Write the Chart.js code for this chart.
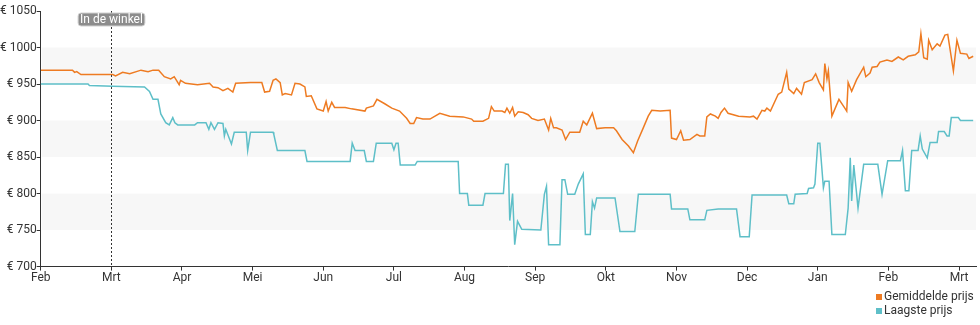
<!DOCTYPE html>
<html>
<head>
<meta charset="utf-8">
<script src="https://cdn.jsdelivr.net/npm/chart.js@4.4.1/dist/chart.umd.min.js"></script>
<style>
  html, body { margin: 0; padding: 0; background: #fff; }
  #wrap { width: 980px; height: 325px; position: relative; }
</style>
</head>
<body>
<div id="wrap"><canvas id="prijsChart"></canvas></div>
<script>
// maanden op de x-as (positie 0 = begin februari)
const monthLabels = ["Feb", "Mrt", "Apr", "Mei", "Jun", "Jul", "Aug", "Sep", "Okt", "Nov", "Dec", "Jan", "Feb", "Mrt"];
const yTicks = [700, 750, 800, 850, 900, 950, 1000, 1050];

// Gemiddelde prijs: positie (in maanden) en waarde
const avgX = [0.00, 0.45, 0.48, 0.51, 0.57, 1.02, 1.06, 1.16, 1.26, 1.42, 1.52, 1.59, 1.67, 1.75, 1.84, 1.89, 1.96, 1.98, 2.05, 2.22,
  2.39, 2.44, 2.51, 2.58, 2.65, 2.72, 2.76, 2.97, 3.13, 3.17, 3.24, 3.29, 3.33, 3.39, 3.42, 3.46, 3.55, 3.60, 3.67, 3.74,
  3.76, 3.83, 3.91, 4.00, 4.04, 4.07, 4.12, 4.16, 4.31, 4.40, 4.59, 4.61, 4.71, 4.76, 4.87, 4.97, 5.08, 5.18, 5.23, 5.28,
  5.32, 5.41, 5.51, 5.65, 5.79, 5.98, 6.10, 6.13, 6.26, 6.34, 6.38, 6.42, 6.53, 6.57, 6.60, 6.64, 6.68, 6.71, 6.76, 6.83,
  6.90, 6.95, 7.04, 7.13, 7.19, 7.22, 7.26, 7.30, 7.38, 7.43, 7.49, 7.63, 7.68, 7.73, 7.81, 7.87, 7.99, 8.11, 8.15, 8.23,
  8.32, 8.39, 8.45, 8.53, 8.60, 8.65, 8.77, 8.91, 8.93, 9.00, 9.06, 9.10, 9.19, 9.29, 9.33, 9.40, 9.43, 9.48, 9.55, 9.59,
  9.63, 9.68, 9.73, 9.88, 10.04, 10.09, 10.14, 10.21, 10.25, 10.28, 10.33, 10.44, 10.49, 10.56, 10.59, 10.66, 10.70, 10.77, 10.81, 10.92,
  10.97, 11.02, 11.08, 11.10, 11.13, 11.15, 11.20, 11.30, 11.39, 11.41, 11.43, 11.48, 11.55, 11.65, 11.68, 11.74, 11.77, 11.84, 11.88, 11.98,
  12.05, 12.14, 12.21, 12.28, 12.38, 12.43, 12.46, 12.50, 12.55, 12.57, 12.62, 12.69, 12.73, 12.80, 12.84, 12.92, 12.97, 13.02, 13.11, 13.14,
  13.20];
const avgY = [969, 969, 966, 967, 963, 963, 961, 966, 964, 969, 967, 969, 969, 960, 957, 960, 949, 955, 951, 949,
  951, 946, 945, 941, 944, 939, 951, 952, 952, 939, 940, 955, 957, 952, 935, 937, 935, 951, 950, 946,
  933, 934, 916, 913, 926, 913, 925, 918, 918, 916, 913, 917, 920, 929, 923, 917, 913, 903, 896, 896,
  904, 902, 902, 910, 906, 905, 902, 899, 899, 903, 919, 913, 913, 911, 917, 910, 918, 906, 912, 911,
  908, 903, 900, 902, 887, 903, 890, 890, 887, 874, 884, 884, 899, 894, 910, 889, 890, 890, 886, 874,
  865, 856, 872, 890, 906, 914, 913, 914, 876, 874, 886, 873, 874, 881, 879, 879, 905, 909, 906, 903,
  911, 917, 910, 906, 905, 906, 902, 914, 913, 917, 913, 936, 939, 966, 943, 937, 944, 936, 952, 956,
  964, 952, 942, 978, 957, 968, 906, 929, 916, 913, 952, 940, 956, 973, 960, 965, 973, 974, 980, 983,
  981, 987, 983, 988, 990, 994, 1019, 986, 984, 1010, 997, 1005, 1002, 1017, 1018, 968, 1010, 992, 991, 985,
  988];

// Laagste prijs
const lowX = [0.00, 0.67, 0.69, 1.02, 1.47, 1.54, 1.59, 1.66, 1.70, 1.77, 1.82, 1.87, 1.90, 1.94, 2.18, 2.22, 2.34, 2.38, 2.41, 2.46,
  2.51, 2.58, 2.60, 2.62, 2.70, 2.74, 2.91, 2.93, 2.97, 3.29, 3.30, 3.35, 3.74, 3.77, 4.38, 4.41, 4.45, 4.58, 4.61, 4.71,
  4.75, 4.97, 5.00, 5.03, 5.06, 5.09, 5.30, 5.33, 5.91, 5.93, 6.04, 6.06, 6.26, 6.29, 6.55, 6.58, 6.62, 6.64, 6.68, 6.71,
  6.75, 6.81, 7.08, 7.13, 7.16, 7.19, 7.35, 7.38, 7.42, 7.46, 7.56, 7.61, 7.68, 7.71, 7.78, 7.81, 7.84, 7.87, 8.13, 8.20,
  8.41, 8.46, 8.91, 8.93, 9.16, 9.19, 9.40, 9.43, 9.59, 9.85, 9.90, 10.03, 10.07, 10.56, 10.59, 10.66, 10.68, 10.85, 10.87, 10.94,
  10.96, 11.00, 11.03, 11.08, 11.10, 11.16, 11.20, 11.39, 11.43, 11.46, 11.48, 11.51, 11.57, 11.65, 11.85, 11.91, 11.99, 12.17, 12.20, 12.24,
  12.29, 12.33, 12.42, 12.45, 12.48, 12.55, 12.59, 12.69, 12.71, 12.79, 12.83, 12.86, 12.89, 12.99, 13.02, 13.20];
const lowY = [950, 950, 948, 947, 946, 940, 929, 929, 909, 897, 894, 904, 897, 894, 894, 897, 897, 888, 897, 888,
  897, 896, 879, 888, 868, 884, 884, 859, 884, 884, 881, 859, 859, 844, 844, 869, 859, 859, 844, 844,
  869, 869, 860, 869, 869, 839, 839, 844, 844, 800, 800, 784, 784, 800, 800, 840, 840, 763, 800, 730,
  762, 751, 750, 799, 810, 730, 730, 819, 819, 799, 799, 813, 827, 744, 744, 789, 780, 794, 794, 748,
  748, 799, 799, 779, 779, 764, 764, 777, 779, 779, 741, 741, 798, 798, 786, 786, 799, 800, 807, 808,
  813, 869, 869, 808, 817, 817, 744, 744, 780, 849, 790, 839, 780, 840, 840, 799, 845, 845, 859, 804,
  804, 859, 859, 879, 861, 849, 870, 870, 885, 885, 879, 879, 904, 904, 900, 900];

const avgColor = "#ee7b22";
const lowColor = "#5ebfc8";

function toPoints(xs, ys) {
  return xs.map((x, i) => ({ x: x, y: ys[i] }));
}

// afwisselende grijze banden achter de lijnen
const bandPlugin = {
  id: "bands",
  beforeDatasetsDraw(chart) {
    const { ctx, chartArea, scales } = chart;
    const y = scales.y;
    ctx.save();
    ctx.fillStyle = "#f7f7f7";
    [[950, 1000], [850, 900], [750, 800]].forEach(function (b) {
      const top = y.getPixelForValue(b[1]);
      const bottom = y.getPixelForValue(b[0]);
      ctx.fillRect(chartArea.left + 1, top, chartArea.right - chartArea.left - 1, bottom - top);
    });
    ctx.restore();
  },
};

// stippellijn "In de winkel"
const markerPlugin = {
  id: "marker",
  afterDatasetsDraw(chart) {
    const { ctx, chartArea, scales } = chart;
    const x = Math.round(scales.x.getPixelForValue(1.0)) + 0.5;
    ctx.save();
    ctx.strokeStyle = "#333";
    ctx.lineWidth = 1;
    ctx.setLineDash([2, 2]);
    ctx.beginPath();
    ctx.moveTo(x, chartArea.top);
    ctx.lineTo(x, chartArea.bottom);
    ctx.stroke();
    ctx.setLineDash([]);

    const text = "In de winkel";
    ctx.font = "12px Roboto";
    const w = ctx.measureText(text).width + 4;
    const h = 13;
    const bx = x - w / 2;
    const by = 13;
    ctx.beginPath();
    ctx.roundRect(bx, by, w, h, 3);
    ctx.fillStyle = "#8c8c8c";
    ctx.fill();
    ctx.strokeStyle = "#d0d0d0";
    ctx.stroke();
    ctx.fillStyle = "#fff";
    ctx.textAlign = "center";
    ctx.textBaseline = "middle";
    ctx.fillText(text, x, by + h / 2 + 0.5);
    ctx.restore();
  },
};

// legenda rechtsonder, onder elkaar
const legendPlugin = {
  id: "cornerLegend",
  afterDraw(chart) {
    const ctx = chart.ctx;
    ctx.save();
    ctx.font = "12px Roboto";
    ctx.textBaseline = "middle";
    ctx.textAlign = "left";
    chart.data.datasets.forEach(function (ds, i) {
      const y = 297 + i * 14;
      ctx.fillStyle = ds.borderColor;
      ctx.fillRect(876, y - 3, 6, 6);
      ctx.fillStyle = "#333";
      ctx.fillText(ds.label, 884, y);
    });
    ctx.restore();
  },
};

const ctx = document.getElementById("prijsChart").getContext("2d");
const chart = new Chart(ctx, {
  type: "line",
  data: {
    datasets: [
      {
        label: "Gemiddelde prijs",
        data: toPoints(avgX, avgY),
        borderColor: avgColor,
        backgroundColor: avgColor,
        borderWidth: 1.5,
        pointRadius: 0,
        tension: 0,
      },
      {
        label: "Laagste prijs",
        data: toPoints(lowX, lowY),
        borderColor: lowColor,
        backgroundColor: lowColor,
        borderWidth: 1.5,
        pointRadius: 0,
        tension: 0,
      },
    ],
  },
  options: {
    responsive: true,
    maintainAspectRatio: false,
    animation: false,
    layout: { padding: { top: 11, right: 4, bottom: 40, left: 0 } },
    plugins: {
      legend: { display: false },
      tooltip: { enabled: false },
    },
    scales: {
      x: {
        type: "linear",
        min: 0,
        max: 13.24,
        afterBuildTicks(scale) {
          scale.ticks = monthLabels.map((m, i) => ({ value: i }));
        },
        ticks: {
          autoSkip: false,
          maxRotation: 0,
          padding: 0,
          color: "#333",
          font: { family: "Roboto", size: 12 },
          callback: (v) => monthLabels[v],
        },
        grid: { drawOnChartArea: false, drawTicks: true, tickLength: 4, color: "#333" },
        border: { color: "#333", width: 1 },
      },
      y: {
        min: 700,
        max: 1050,
        afterBuildTicks(scale) {
          scale.ticks = yTicks.map((v) => ({ value: v }));
        },
        ticks: {
          padding: 0,
          color: "#333",
          font: { family: "Roboto", size: 12 },
          callback: (v) => "€ " + v,
        },
        grid: { drawOnChartArea: false, drawTicks: true, tickLength: 4, color: "#333" },
        border: { color: "#333", width: 1 },
      },
    },
  },
  plugins: [bandPlugin, markerPlugin, legendPlugin],
});
</script>
</body>
</html>
